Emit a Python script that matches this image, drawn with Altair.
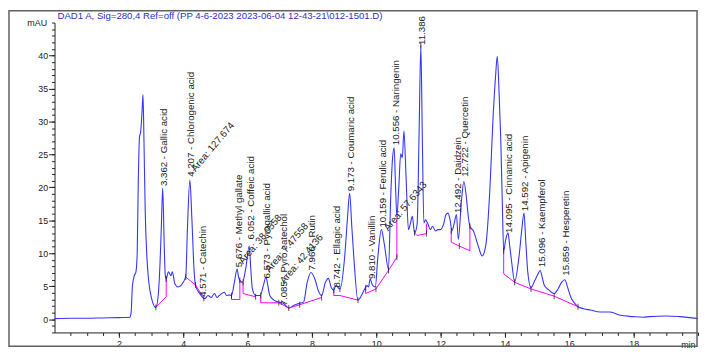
import altair as alt
import pandas as pd

# ---------------- data ----------------
TRACE_T = [0.00, 0.50, 1.00, 1.50, 2.00, 2.34, 2.38, 2.42, 2.48, 2.53, 2.57, 2.60, 2.64, 2.68, 2.72, 2.75,
           2.78, 2.82, 2.87, 2.92, 3.02, 3.15, 3.22, 3.28, 3.32, 3.362, 3.41, 3.44, 3.47, 3.54, 3.62, 3.66,
           3.74, 3.84, 4.00, 4.08, 4.13, 4.207, 4.27, 4.34, 4.38, 4.51, 4.67, 4.77, 4.87, 4.97, 5.05, 5.12,
           5.23, 5.28, 5.35, 5.43, 5.50, 5.59, 5.676, 5.72, 5.76, 5.84, 5.94, 6.052, 6.10, 6.15, 6.25, 6.39,
           6.49, 6.573, 6.63, 6.69, 6.82, 6.97, 7.12, 7.28, 7.43, 7.59, 7.74, 7.85, 7.966, 8.10, 8.20, 8.30,
           8.42, 8.51, 8.60, 8.68, 8.742, 8.87, 9.02, 9.10, 9.173, 9.24, 9.30, 9.43, 9.54, 9.64, 9.72, 9.76,
           9.81, 9.88, 9.97, 10.05, 10.159, 10.25, 10.38, 10.45, 10.50, 10.556, 10.60, 10.64, 10.70, 10.76,
           10.81, 10.86, 10.93, 11.00, 11.06, 11.12, 11.19, 11.27, 11.33, 11.386, 11.43, 11.48, 11.53, 11.61,
           11.68, 11.75, 11.84, 11.92, 11.99, 12.09, 12.17, 12.23, 12.30, 12.35, 12.42, 12.492, 12.55, 12.65,
           12.722, 12.80, 12.86, 12.91, 13.02, 13.17, 13.29, 13.40, 13.53, 13.63, 13.71, 13.76, 13.82, 13.87,
           13.92, 13.96, 14.02, 14.095, 14.15, 14.21, 14.30, 14.45, 14.52, 14.592, 14.65, 14.71, 14.81, 14.92,
           15.02, 15.096, 15.16, 15.22, 15.35, 15.53, 15.65, 15.76, 15.859, 15.95, 16.05, 16.14, 16.27, 16.45,
           16.65, 16.96, 17.27, 17.58, 17.98, 18.29, 18.50, 19.01, 19.42, 20.00]
TRACE_MAU = [0.1, 0.15, 0.15, 0.2, 0.25, 0.3, 1.0, 5.0, 6.6, 7.2, 10.0, 20.0, 27.6, 28.5, 31.5, 34.1,
             27.0, 16.1, 9.5, 6.1, 3.1, 1.8, 3.5, 8.6, 14.0, 19.9, 11.1, 6.8, 6.1, 7.2, 6.6, 7.2,
             5.4, 4.9, 5.6, 6.6, 13.6, 21.1, 15.1, 7.2, 5.2, 3.9, 3.1, 3.6, 3.3, 3.9, 3.3, 3.6,
             4.0, 4.1, 3.6, 3.7, 3.6, 5.6, 7.6, 6.4, 5.9, 5.6, 7.6, 11.1, 7.6, 4.6, 3.6, 3.6,
             5.1, 6.4, 5.1, 3.6, 2.9, 2.6, 2.4, 1.7, 2.1, 2.4, 2.6, 5.5, 7.1, 6.0, 4.3, 3.6,
             5.6, 6.2, 4.8, 4.4, 5.1, 4.6, 9.6, 15.0, 19.1, 14.0, 9.6, 2.9, 3.6, 4.6, 5.1, 4.9,
             6.1, 5.2, 4.9, 9.5, 13.6, 11.4, 7.6, 18.6, 24.0, 26.0, 20.0, 15.6, 20.0, 25.1,
             24.5, 28.6, 21.0, 13.6, 14.5, 15.6, 13.1, 14.4, 28.0, 41.5, 28.0, 14.6, 15.1, 14.4,
             13.6, 14.1, 13.4, 13.6, 13.6, 14.4, 15.9, 16.1, 14.9, 13.4, 14.5, 15.9, 12.1, 18.1,
             20.9, 18.5, 15.6, 14.1, 13.4, 11.1, 9.6, 11.1, 19.6, 30.6, 37.0, 39.9, 34.0, 27.1,
             17.1, 10.4, 12.0, 13.1, 11.0, 8.6, 5.7, 10.1, 13.5, 16.1, 11.5, 7.1, 4.8, 5.8,
             6.8, 7.4, 6.3, 5.2, 4.5, 3.9, 4.6, 5.6, 6.0, 4.8, 3.3, 2.6, 1.9, 1.6,
             1.4, 1.1, 1.1, 0.6, 0.4, 0.3, 0.4, 0.5, 0.4, 0.1]

# integration baselines (segment id, time, mAU)
BASE_SEG = [1, 1, 1,
            2, 2, 2,
            3, 3, 3, 3,
            4, 4, 4,
            5, 5, 5, 5, 5, 5,
            6, 6, 6, 6,
            7, 7, 7, 7, 7, 7,
            8, 8, 8, 8,
            9, 9, 9, 9, 9,
            10, 10, 10, 10, 10, 10]
BASE_T = [3.15, 3.47, 3.47,
          4.08, 4.38, 4.64,
          5.50, 5.50, 5.76, 5.76,
          5.86, 5.86, 6.25,
          6.41, 6.41, 6.97, 7.28, 7.62, 8.30,
          8.68, 8.68, 8.87, 9.43,
          9.67, 9.67, 9.99, 10.38, 10.64, 10.64,
          11.19, 11.27, 11.56, 11.56,
          12.33, 12.33, 12.58, 12.91, 12.91,
          13.96, 13.96, 14.30, 14.81, 15.53, 16.27]
BASE_MAU = [1.8, 3.4, 6.1,
            6.4, 5.2, 3.2,
            3.6, 3.0, 3.0, 5.9,
            5.6, 3.9, 3.4,
            3.6, 2.5, 2.5, 1.7, 2.2, 3.3,
            4.4, 3.6, 3.6, 2.9,
            4.8, 3.9, 4.6, 7.4, 9.4, 15.4,
            13.1, 12.7, 13.0, 14.5,
            13.4, 11.7, 11.1, 10.4, 14.1,
            10.4, 6.9, 5.6, 4.6, 3.5, 1.9]

# small black integration-event marks
EVENT_T = [3.15, 3.47, 4.08, 4.38, 4.64, 5.50, 5.76, 5.86, 6.25, 6.41, 6.97, 7.28, 7.62, 8.30, 8.68,
           8.87, 9.43, 9.67, 9.99, 10.38, 10.64, 11.19, 11.386, 11.56, 12.33, 12.58, 12.91, 13.96, 14.30,
           14.81, 15.53, 16.27]
EVENT_MAU = [1.8, 6.1, 6.4, 5.2, 3.2, 3.6, 5.9, 5.6, 3.4, 3.6, 2.5, 1.7, 2.2, 3.3, 4.4,
             4.6, 2.9, 4.8, 4.6, 7.4, 9.4, 13.1, 41.5, 13.0, 13.4, 11.1, 14.1, 10.4, 5.6,
             4.6, 3.5, 1.9]

# peak labels
PEAK_RT = [3.362, 4.207, 4.571, 5.676, 6.052, 6.573, 7.085, 7.966, 8.742, 9.173, 9.810, 10.159,
           10.556, 11.386, 12.492, 12.722, 14.095, 14.592, 15.096, 15.859]
PEAK_RT_TEXT = ["3.362", "4.207", "4.571", "5.676", "6.052", "6.573", "7.085", "7.966", "8.742", "9.173",
                "9.810", "10.159", "10.556", "11.386", "12.492", "12.722", "14.095", "14.592", "15.096",
                "15.859"]
PEAK_NAME = ["Gallic acid", "Chlorogenic acid", "Catechin", "Methyl gallate", "Coffeic acid",
             "Pyrogallic acid", "Pyro catechol", "Rutin", "Ellagic acid", "Coumaric acid", "Vanillin",
             "Ferulic acid", "Naringenin", "", "Daidzein", "Quercetin", "Cinnamic acid", "Apigenin",
             "Kaempferol", "Hesperetin"]
LABEL_MAU = [20.2, 21.6, 3.4, 7.9, 12.1, 6.2, 2.1, 7.4, 4.8, 19.4, 6.1, 13.9,
             26.4, 41.6, 16.1, 21.6, 13.1, 16.4, 7.9, 6.6]

# area annotations
AREA_TEXT = ["Area: 127.674", "Area: 38.0558", "Area: 7.47558", "Area: 42.4136", "Area: 57.6343"]
AREA_T = [4.31, 5.79, 6.61, 7.07, 10.30]
AREA_MAU = [22.6, 8.6, 7.3, 5.6, 13.6]

X_MAJOR = [2, 4, 6, 8, 10, 12, 14, 16, 18]
X_MINOR = [0.5, 1, 1.5, 2, 2.5, 3, 3.5, 4, 4.5, 5, 5.5, 6, 6.5, 7, 7.5, 8, 8.5, 9, 9.5, 10,
           10.5, 11, 11.5, 12, 12.5, 13, 13.5, 14, 14.5, 15, 15.5, 16, 16.5, 17, 17.5, 18, 18.5,
           19, 19.5, 20]
Y_MAJOR = [0, 5, 10, 15, 20, 25, 30, 35, 40]
Y_MINOR = list(range(-2, 46))

TITLE = "DAD1 A, Sig=280,4 Ref=off (PP 4-6-2023 2023-06-04 12-43-21\\012-1501.D)"

# ---------------- tables ----------------
df_trace = pd.DataFrame({"t": TRACE_T, "mau": TRACE_MAU})
df_base = pd.DataFrame({"seg": BASE_SEG, "t": BASE_T, "mau": BASE_MAU,
                        "i": list(range(len(BASE_T)))})
df_ev = pd.DataFrame({"t": EVENT_T, "mau": EVENT_MAU})
df_lab = pd.DataFrame({"t": PEAK_RT, "mau": LABEL_MAU,
                       "label": [r + (" - " + n if n else "") for r, n in zip(PEAK_RT_TEXT, PEAK_NAME)]})
df_area = pd.DataFrame({"t": AREA_T, "mau": AREA_MAU, "label": AREA_TEXT})
one = pd.DataFrame({"a": [0]})

W, H = 650, 313
FONT = "Liberation Sans"
xs = alt.Scale(domain=[0, 20], nice=False, zero=False)
ys = alt.Scale(domain=[-2, 45], nice=False, zero=False)
AX = "#222222"

trace = alt.Chart(df_trace).mark_line(color="#3535ff", strokeWidth=1.1, interpolate="monotone").encode(
    x=alt.X("t:Q", scale=xs, axis=alt.Axis(
        values=X_MAJOR, orient="bottom", tickSize=5, labelPadding=2, labelFontSize=9, labelFont=FONT,
        labelColor=AX, domainColor=AX, tickColor=AX, grid=False, format="d", labelFlush=False,
        title="min", titleX=W - 3, titleY=12, titleAlign="right", titleBaseline="middle",
        titleFontWeight="normal", titleFontSize=9, titleFont=FONT, titleColor=AX)),
    y=alt.Y("mau:Q", scale=ys, axis=alt.Axis(
        values=Y_MAJOR, orient="left", tickSize=6, labelPadding=1, labelFontSize=9, labelFont=FONT,
        labelColor=AX, domainColor=AX, tickColor=AX, grid=False, format="d",
        title="mAU", titleAngle=0, titleX=-8, titleY=0, titleAlign="right", titleBaseline="middle",
        titleFontWeight="normal", titleFontSize=9, titleFont=FONT, titleColor=AX)),
)

base = alt.Chart(df_base).mark_line(color="#ff00ff", strokeWidth=1).encode(
    x=alt.X("t:Q", scale=xs, axis=alt.Axis(values=X_MINOR, orient="bottom", tickSize=3, labels=False,
                                          domain=False, grid=False, title=None, tickColor=AX)),
    y=alt.Y("mau:Q", scale=ys, axis=alt.Axis(values=Y_MINOR, orient="left", tickSize=3, labels=False,
                                            domain=False, grid=False, title=None, tickColor=AX)),
    detail="seg:N",
    order="i:Q",
)

events = alt.Chart(df_ev).mark_tick(orient="vertical", size=6, thickness=1, color="#111111").encode(
    x=alt.X("t:Q", scale=xs, axis=None),
    y=alt.Y("mau:Q", scale=ys, axis=None),
)

labels = alt.Chart(df_lab).mark_text(angle=270, align="left", baseline="middle", dy=1.5,
                                     fontSize=9.8, font=FONT, color="#222222").encode(
    x=alt.X("t:Q", scale=xs, axis=None),
    y=alt.Y("mau:Q", scale=ys, axis=None),
    text="label:N",
)

areas = alt.Chart(df_area).mark_text(angle=310, align="left", baseline="middle",
                                     fontSize=9.8, font=FONT, color="#222222").encode(
    x=alt.X("t:Q", scale=xs, axis=None),
    y=alt.Y("mau:Q", scale=ys, axis=None),
    text="label:N",
)

frame = alt.Chart(one).mark_rect(filled=False, color="#606060", stroke="#606060", strokeWidth=1.5).encode(
    x=alt.value(-46), x2=alt.value(649), y=alt.value(-12), y2=alt.value(327))

title = alt.Chart(one).mark_text(align="left", baseline="alphabetic", fontSize=9.7, font=FONT,
                                 color="#3030c8").encode(
    x=alt.value(3), y=alt.value(-4), text=alt.value(TITLE))

chart = alt.layer(trace, base, events, labels, areas, frame, title).resolve_axis(
    x="independent", y="independent"
).properties(
    width=W, height=H,
    padding={"left": 47, "top": 13, "right": 1, "bottom": 15},
    autosize=alt.AutoSizeParams(type="none"),
    background="white",
).configure_view(stroke=None)

chart.save("out.html", embed_options={"renderer": "svg", "actions": False})
